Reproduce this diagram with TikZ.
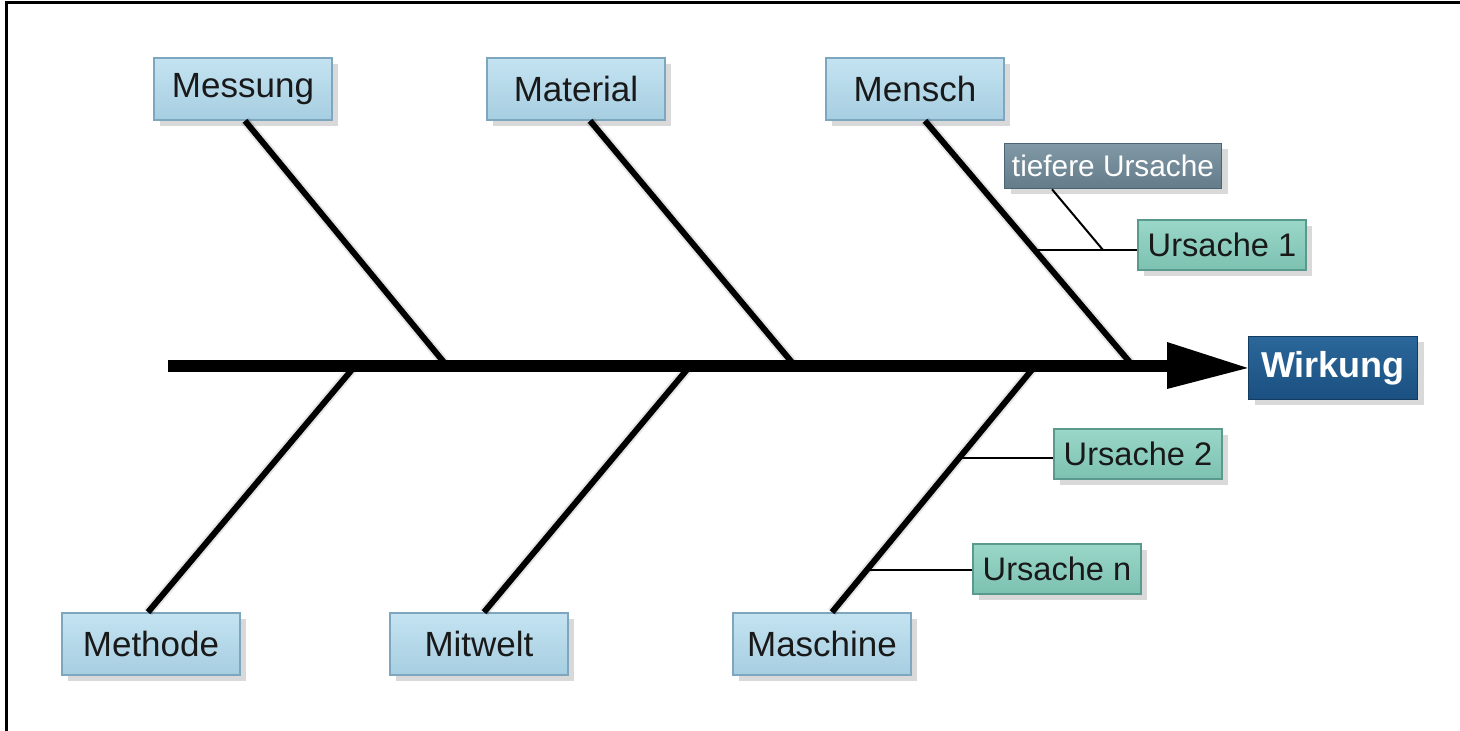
\documentclass[tikz,border=0pt]{standalone}
\usepackage{fontspec}
\setmainfont{Liberation Sans}
\usetikzlibrary{shadows}

\definecolor{causetop}{HTML}{C4E3F1}
\definecolor{causebot}{HTML}{A6CEE1}
\definecolor{causeline}{HTML}{7FA6BF}
\definecolor{urstop}{HTML}{9AD7C9}
\definecolor{ursbot}{HTML}{7CC1B1}
\definecolor{ursline}{HTML}{5A9A8C}
\definecolor{tieftop}{HTML}{8198A5}
\definecolor{tiefbot}{HTML}{647C8A}
\definecolor{tiefline}{HTML}{4C6472}
\definecolor{wirktop}{HTML}{2B679A}
\definecolor{wirkbot}{HTML}{1B5081}
\definecolor{wirkline}{HTML}{123C62}

\tikzset{
  labelbox/.style={inner sep=0pt, line width=0.8pt,
    drop shadow={shadow xshift=3pt, shadow yshift=-3pt, opacity=0.3}},
  causebox/.style={labelbox, top color=causetop, bottom color=causebot, draw=causeline,
    minimum width=89pt, minimum height=31pt, text=black!90,
    font=\fontsize{17.5}{21}\selectfont},
  ursbox/.style={labelbox, top color=urstop, bottom color=ursbot, draw=ursline,
    minimum width=84pt, minimum height=25pt, text=black!90,
    font=\fontsize{16.3}{19}\selectfont},
  tiefbox/.style={labelbox, top color=tieftop, bottom color=tiefbot, draw=tiefline,
    minimum width=108.5pt, minimum height=22.5pt, text=white,
    font=\fontsize{14.9}{18}\selectfont},
  effectbox/.style={labelbox, top color=wirktop, bottom color=wirkbot, draw=wirkline,
    minimum width=84.5pt, minimum height=31.5pt, text=white,
    font=\bfseries\fontsize{18}{21}\selectfont},
  bone/.style={line width=3pt},
  boneshade/.style={line width=5pt, black, opacity=0.1, shift={(4,6)}},
  spine/.style={line width=6pt},
  subline/.style={line width=1pt}
}

\begin{document}
\begin{tikzpicture}[x=0.5pt,y=0.5pt,yscale=-1,xscale=1]
    \useasboundingbox (0,0) rectangle (1460,731);

    % frame
    \draw [line width=1.5pt] (6,731) -- (6,3) -- (1460,3) ;

    % Text Node
    \node [causebox] (messung) at (243,89) {Messung};
    \node [causebox] (material) at (576,89) {Material};
    \node [causebox] (mensch) at (915,89) {Mensch};
    \node [causebox] (methode) at (151,644) {Methode};
    \node [causebox] (mitwelt) at (479,644) {Mitwelt};
    \node [causebox] (maschine) at (822,644) {Maschine};
    % Text Node
    \node [tiefbox] (tiefer) at (1113,166) {tiefere Ursache};
    \node [ursbox] (ursache1) at (1222,245) {Ursache 1};
    \node [ursbox] (ursache2) at (1138,454) {Ursache 2};
    \node [ursbox] (ursachen) at (1057,569) {Ursache n};
    % Text Node
    \node [effectbox] (wirkung) at (1333,368) {Wirkung};

    % spine points
    \coordinate (tail) at (168,366);
    \coordinate (head) at (1175,366);
    \coordinate (j1) at (447,366);
    \coordinate (j2) at (795,366);
    \coordinate (j3) at (1133,366);
    \coordinate (j4) at (355,366);
    \coordinate (j5) at (690,366);
    \coordinate (j6) at (1035,366);

    %Straight Lines: shadows
    \draw [boneshade] (tail) -- (head) ;
    \draw [boneshade] ([xshift=1pt]messung.south) -- (j1) ;
    \draw [boneshade] ([xshift=7pt]material.south) -- (j2) ;
    \draw [boneshade] ([xshift=5pt]mensch.south) -- (j3) ;
    \draw [boneshade] ([xshift=-1.5pt]methode.north) -- (j4) ;
    \draw [boneshade] ([xshift=2.5pt]mitwelt.north) -- (j5) ;
    \draw [boneshade] ([xshift=5pt]maschine.north) -- (j6) ;

    %Straight Lines: bones
    \draw [bone] ([xshift=1pt]messung.south) -- (j1) ;
    \draw [bone] ([xshift=7pt]material.south) -- (j2) ;
    \draw [bone] ([xshift=5pt]mensch.south) -- (j3) ;
    \draw [bone] ([xshift=-1.5pt]methode.north) -- (j4) ;
    \draw [bone] ([xshift=2.5pt]mitwelt.north) -- (j5) ;
    \draw [bone] ([xshift=5pt]maschine.north) -- (j6) ;

    %Straight Lines: spine and head
    \draw [spine] (tail) -- (head) ;
    \fill (1167,342) -- (wirkung.west) -- (1167,389) -- cycle ;

    %Straight Lines: sub causes
    \coordinate (m1) at (1037,250);
    \coordinate (t1) at (1103,250);
    \coordinate (m2) at (962,458);
    \coordinate (m3) at (868,570);
    \draw [subline] (m1) -- (m1 -| ursache1.west) ;
    \draw [subline] ([xshift=-30.5pt]tiefer.south) -- (t1) ;
    \draw [subline] (m2) -- (m2 -| ursache2.west) ;
    \draw [subline] (m3) -- (m3 -| ursachen.west) ;

\end{tikzpicture}
\end{document}
